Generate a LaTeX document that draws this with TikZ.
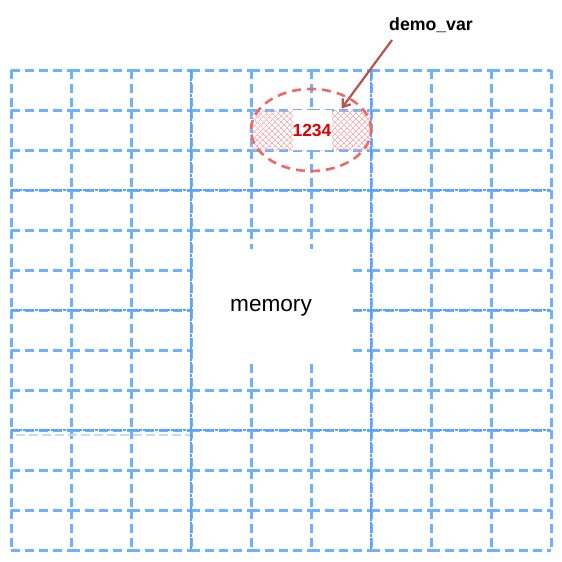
\documentclass[tikz,border=0pt]{standalone}
\usepackage{fontspec}
\setmainfont{Liberation Sans}
\usetikzlibrary{shapes.geometric,patterns.meta,arrows.meta}
\definecolor{gridblue}{RGB}{110,178,255}
\definecolor{gridmajor}{RGB}{85,160,250}
\definecolor{gridpale}{RGB}{190,220,255}
\definecolor{ellred}{RGB}{234,107,102}
\definecolor{hatchred}{RGB}{255,170,170}
\definecolor{arrowred}{RGB}{184,84,80}
\definecolor{txtred}{RGB}{225,0,0}
\tikzset{
  minorline/.style={draw=gridblue, line width=3pt, dash pattern=on 9pt off 5pt},
  majorline/.style={draw=gridmajor, line width=2.6pt, dash pattern=on 3pt off 1pt},
  paleline/.style={draw=gridpale, line width=2.4pt, dash pattern=on 9pt off 4pt},
  memlabel/.style={inner sep=0pt, font=\fontsize{22.6}{26}\selectfont},
  varellipse/.style={ellipse, draw=ellred, line width=2.6pt, dash pattern=on 9pt off 6pt, inner sep=0pt},
  vallabel/.style={fill=white, inner sep=0pt, text=txtred, font=\fontsize{17.5}{20}\selectfont\bfseries},
  namelabel/.style={inner sep=0pt, font=\fontsize{17.7}{20}\selectfont\bfseries},
  pointer/.style={draw=arrowred, line width=2.2pt, -{Straight Barb[length=7pt,width=10pt]}}
}
\begin{document}
\begin{tikzpicture}[x=1pt,y=-1pt]
\useasboundingbox (0,0) rectangle (562,562);
% minor grid, drawn cell by cell
\foreach \y in {70,110,...,550}{
  \foreach \x in {11,71,...,491}{
    \draw[minorline] (\x,\y) -- ++(60,0);
  }
}
\foreach \x in {11,71,...,551}{
  \foreach \y in {70,110,...,510}{
    \draw[minorline] (\x,\y) -- ++(0,40);
  }
}
% major interior lines
\foreach \x in {191,371}{
  \draw[majorline] (\x,70) -- (\x,550);
}
\foreach \y in {190,310,430}{
  \draw[majorline] (11,\y) -- (551,\y);
}
\draw[paleline] (16,435) -- (190,435);
% memory area
\fill[white] (192.5,249) rectangle (353,362);
\node[memlabel] (mem) at (271,308) {memory};
% hatched variable cell
\fill[pattern={Lines[angle=45,distance=4pt,line width=0.7pt]}, pattern color=hatchred] (251,110) rectangle (371,150);
\fill[pattern={Lines[angle=-45,distance=4pt,line width=0.7pt]}, pattern color=hatchred] (251,110) rectangle (371,150);
\node[varellipse, minimum width=120pt, minimum height=82pt] (var) at (311,130) {};
\node[vallabel, minimum width=39pt, minimum height=40pt] (val) at (312,130) {1234};
% pointer
\node[namelabel] (name) at (431,25) {demo\_var};
\coordinate (tail) at (392,40);
\coordinate (tip) at (341.5,108.5);
\draw[pointer] (tail) -- (tip);
\end{tikzpicture}
\end{document}
